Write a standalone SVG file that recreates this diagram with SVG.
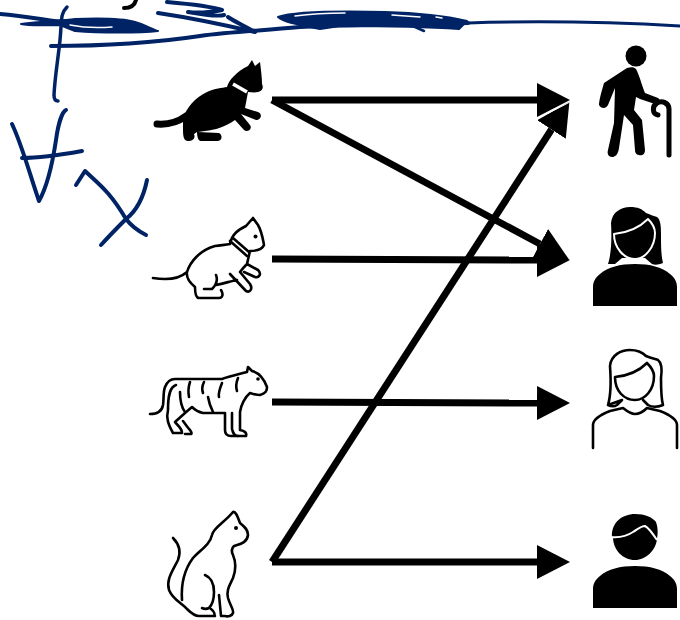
<svg xmlns="http://www.w3.org/2000/svg" width="680" height="620" viewBox="0 0 680 620">
<style>
.ink{fill:none;stroke:#002366;stroke-width:4;stroke-linecap:round;stroke-linejoin:round}
.blob{fill:#002366;stroke:#002366;stroke-width:2;stroke-linejoin:round}
.gap{fill:none;stroke:#fff;stroke-width:1.5;stroke-linecap:round}
.conn{fill:none;stroke:#000;stroke-width:7;marker-end:url(#head)}
.solid{fill:#000;stroke:none}
.line{fill:none;stroke:#000;stroke-width:2.600;stroke-linecap:round;stroke-linejoin:round}
.cut{fill:none;stroke:#fff;stroke-width:2;stroke-linejoin:round}
</style>
<defs>
<marker id="head" markerUnits="userSpaceOnUse" markerWidth="34" markerHeight="34" refX="0" refY="17" orient="auto">
<path d="M0,0L33,17L0,34Z" fill="#000"/>
</marker>
</defs>
<rect width="680" height="620" fill="#fff"/>
<g id="ink">
<path class="line" style="stroke-width:4" d="M136,0Q134,8 124,8"/>
<path class="ink" d="M0,14C25,16 45,20 62,22"/>
<path class="blob" d="M21,24C40,21 60,21 75,19C100,18 125,19 135,22C145,25 152,29 158,31C140,33 100,33 75,31C70,29 65,27 60,25C45,25 30,26 21,24Z"/>
<path class="gap" d="M70,25C85,28 100,28 112,27"/>
<path class="ink" d="M51,46C110,46 160,42 200,36C230,32 255,31 300,27C360,24 420,24 468,23" />
<path class="ink" style="stroke-width:3" d="M468,23C530,21 610,22 680,26"/>
<path class="ink" style="stroke-width:3.500" d="M67,7C60,14 62,20 60,40C58,60 55,75 54,95C54,100 56,101 58,101"/>
<path class="ink" d="M167,2C190,4 210,6 222,10C210,13 195,13 188,12C205,15 218,17 224,15M158,13C185,17 225,25 255,32C245,26 235,22 228,17"/>
<path class="blob" d="M278,17C295,11 340,11 385,12C420,13 450,17 467,21L459,29C430,27 390,26 340,26L320,29C300,25 285,23 278,17Z"/>
<path class="gap" d="M295,16C310,14 325,13 345,13M392,15L420,17M436,17L442,18"/>
<path class="ink" style="stroke-width:2.500" d="M415,27L424,31"/>
<path class="ink" d="M12,124C22,145 30,175 39,201C48,185 53,160 56,140C58,125 62,112 66,110M22,158C40,158 60,155 82,151"/>
<path class="ink" d="M76,185L85,171C100,185 110,192 126,219C133,228 140,232 146,235M147,180C143,200 135,212 126,219C118,227 110,235 101,245"/>
</g>
<g id="connectors">
<path class="conn" d="M272,100H537"/>
<path class="conn" d="M272,100L540,244"/>
<path class="conn" d="M272,259L537,260"/>
<path class="conn" d="M272,402L537,403"/>
<path class="conn" d="M272,562H537"/>
<path class="conn" d="M272,562L551.500,129.500"/>
<path d="M539,118L570,102" fill="none" stroke="#fff" stroke-width="1"/>
</g>
<g id="cat-black">
<path class="line" style="stroke-width:7" d="M157,124C170,125 178,122 186,116"/>
<path class="solid" d="M183,118C187,108 194,98 207,92C215,88 222,88 227,87C229,80 236,72 248,66L252,60L255,66L260,62C261,70 262,78 262,84C264,88 262,91 258,92C254,93 251,92 248,92L245,108L258,112C263,114 261,120 256,120L241,114L250,125C253,129 247,133 244,130L235,120C225,127 215,130 205,131L198,132L219,133C223,135 222,141 218,141H201C198,141 197,136 197,132L194,134C196,139 192,141 188,141C184,141 183,137 183,130Z"/>
<path d="M233,84L247,92" fill="none" stroke="#fff" stroke-width="3.500"/>
</g>
<g id="cat-outline">
<path class="line" d="M153,278C165,280 178,280 187,272M187,272C190,262 200,250 215,246C222,245 226,245 230,244C232,234 238,230 246,226L253,218L258,225C262,232 263,240 264,245C262,250 257,251 250,251L247,264L258,270C262,274 259,278 255,277L244,272M230,274L246,291C250,293 253,289 250,284L240,272C243,268 245,266 247,264M237,280C232,281 225,283 216,285M216,275C218,280 216,285 212,289H204M221,290C224,295 222,298 219,298H199C196,298 195,292 195,287C190,283 186,278 187,272"/>
<path class="line" d="M230,241L247,256M233,238L249,252"/>
<circle class="solid" cx="255.500" cy="236.500" r="2"/>
</g>
<g id="tiger">
<path class="line" d="M150,414C157,414 162,411 163,405C164,398 163,392 165,387C167,382 170,379 175,379H222C230,376 240,374 247,372L248,367L252,371C260,373 264,379 267,387C267,391 266,393 260,395C256,395 253,394 250,393C245,397 241,405 240,412V430C245,431 247,433 246,436H238C234,436 233,433 232,429V413"/>
<path class="line" d="M176,385C170,387 168,395 168,410C166,418 168,424 173,433H182C182,428 177,425 175,422L185,413L192,407C195,410 198,412 203,413H225V430C225,434 227,436 231,436H238M183,421C186,425 188,428 190,430C192,433 192,434 190,434H185"/>
<path class="line" d="M180,392C180,400 182,408 185,412M190,382C188,388 188,392 189,397M204,382C202,386 202,390 203,393M222,383C220,388 218,393 219,397M238,378C236,383 236,388 237,391M208,397C209,403 211,408 213,412"/>
<circle class="solid" cx="258" cy="379" r="1.800"/>
</g>
<g id="cat-sitting">
<path class="line" d="M173,538C180,545 181,552 178,560C172,572 166,580 169,590C173,600 182,603 187,609C191,613 195,616 199,616H215M182,600C181,585 184,570 193,558C200,550 210,545 212,535C213,528 225,522 233,512C236,511 238,518 240,523C245,527 248,530 248,535C247,543 240,544 234,546C232,548 231,551 233,555C236,562 236,570 233,578C230,585 226,590 228,598C230,605 234,610 233,613C232,616 228,617 225,616H221L219,595M205,575C212,578 214,585 214,592C214,600 212,605 209,608C207,609 204,609 202,608M211,609C215,612 215,615 214,616"/>
<circle class="solid" cx="236" cy="528" r="2"/>
</g>
<g id="person-elder">
<circle class="solid" cx="636" cy="56" r="10.500"/>
<path class="solid" d="M627,68C631,67 634,67 636,69C639,74 642,86 645,93L658,98C661,100 660,104 658,105L640,99L636,97L634,110L642,120L645,150C645,155 641,156 639,155C636,155 635,152 635,150L633,125L624,115L619,148C618,155 615,157 612,157C608,157 607,153 608,150L614,123L615,88L608,105C606,109 601,109 599,105C599,100 602,90 604,83Z"/>
<path d="M669,155V109C669,103 662,100 657,103C652,106 652,114 658,115" fill="none" stroke="#000" stroke-width="5" stroke-linecap="round"/>
</g>
<g id="person-woman-solid">
<path class="solid" d="M608,264C611,255 612,240 611,223C612,212 621,207 630,207C638,207 642,209 646,213C651,215 654,216 657,217C661,220 661,228 661,235C661,245 661,255 663,263C658,265 655,265 652,264L645,258H622L615,264Z"/>
<path class="cut" d="M614,234C625,233 637,230 648,219C652,223 655,227 655,233C655,247 645,259 635,259C624,259 614,248 614,234Z"/>
<path class="solid" d="M635,264C650,264 662,267 670,274C675,278 677,282 677,287V306H593V287C593,282 595,278 600,274C608,267 620,264 635,264Z"/>
</g>
<g id="person-woman-outline">
<path class="line" d="M608,405C611,395 611,380 610,366C611,355 621,350 630,350C638,350 642,352 646,356C651,358 655,359 658,360C662,363 662,371 661,378C661,388 661,398 663,405C658,407 653,408 648,405L643,400M622,400L617,405C614,407 612,407 608,405Z"/>
<path class="line" d="M615,377C626,376 637,373 647,363C651,367 654,371 654,376C654,390 645,400 635,400C624,400 615,391 615,377Z"/>
<path class="line" d="M593,448V425C593,420 600,415 610,411L623,408C628,412 632,414 635,414C639,414 643,412 647,408L660,411C670,415 677,420 677,425V448"/>
</g>
<g id="person-man">
<path class="solid" d="M612,537C611,523 622,514 635,514C645,514 652,517 656,522C658,527 658,533 657,539C656,550 646,560 635,560C623,560 613,550 613,537Z"/>
<path class="cut" d="M611,537C620,538 627,536 633,532C638,529 641,526 645,526C649,528 653,534 657,540"/>
<path class="solid" d="M635,566C650,566 662,569 670,576C675,580 677,584 677,589V608H593V589C593,584 595,580 600,576C608,569 620,566 635,566Z"/>
</g>
</svg>
